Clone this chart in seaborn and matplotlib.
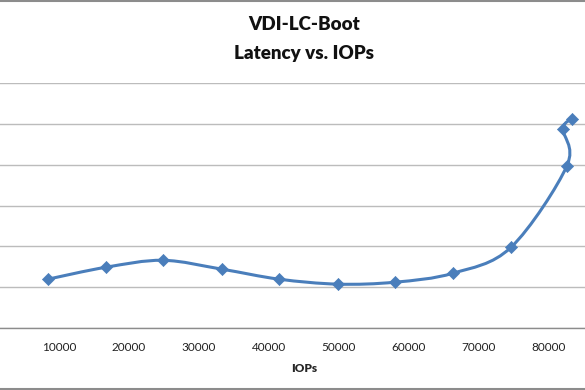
import numpy as np
import matplotlib
matplotlib.use("Agg")
import matplotlib.pyplot as plt
from matplotlib.path import Path
from matplotlib.patches import PathPatch
from matplotlib.lines import Line2D
import seaborn as sns

# values (latency axis labels are cropped in the source)
iops = [8430, 16710, 24860, 33290, 41430, 49860, 58000, 66290, 74570, 82570, 82000, 83290]
latency = [5.98, 7.44, 8.29, 7.20, 5.98, 5.37, 5.61, 6.71, 9.88, 19.88, 24.39, 25.61]
x_ticks = [10000, 20000, 30000, 40000, 50000, 60000, 70000, 80000]

blue = "#4a7ebb"

sns.set_style("white")
plt.rcParams["font.family"] = ["Lato", "DejaVu Sans"]

fig = plt.figure(figsize=(5.85, 3.9), dpi=100)
W, H = 585, 390
# plot area runs past the left and right edges of the picture
ax = fig.add_axes([-11 / W, 62 / H, 630 / W, 245 / H])

ax.set_xlim(0, 90000)
ax.set_ylim(0, 30)
ax.set_yticks(np.arange(0, 31, 5))
ax.set_yticklabels([])
ax.tick_params(axis="y", length=0)
ax.grid(axis="y", color="#bcbcbc", lw=1)
ax.set_axisbelow(True)
for s in ["top", "right", "left"]:
    ax.spines[s].set_visible(False)
ax.spines["bottom"].set_color("#8c8c8c")
ax.spines["bottom"].set_linewidth(1)

ax.set_xticks(x_ticks)
ax.set_xticklabels([str(t) for t in x_ticks], fontsize=8.5, color="#222222")
ax.tick_params(axis="x", length=4, color="#8c8c8c", pad=6)

# smoothed line (Excel-style bezier through the points)
pts = np.column_stack([iops, latency])
ext = np.vstack([pts[0], pts, pts[-1]])
verts = [tuple(pts[0])]
codes = [Path.MOVETO]
for i in range(len(pts) - 1):
    p0, p1, p2, p3 = ext[i], ext[i + 1], ext[i + 2], ext[i + 3]
    c1 = p1 + (p2 - p0) / 6
    c2 = p2 - (p3 - p1) / 6
    verts += [tuple(c1), tuple(c2), tuple(p2)]
    codes += [Path.CURVE4] * 3
ax.add_patch(PathPatch(Path(verts, codes), fill=False, edgecolor=blue, lw=2.2,
                       capstyle="round", joinstyle="round", zorder=3))

sns.scatterplot(x=iops, y=latency, ax=ax, marker="D", s=38, color=blue,
                edgecolor=blue, linewidth=0.5, zorder=4, clip_on=False)

ax.set_xlabel("IOPs", fontsize=8.5, fontweight="heavy", labelpad=7)
ax.set_ylabel("")

fig.text(304 / W, 1 - 25 / H, "VDI-LC-Boot", ha="center", va="center",
         fontsize=13.5, fontweight="heavy", color="#111111")
fig.text(304 / W, 1 - 53 / H, "Latency vs. IOPs", ha="center", va="center",
         fontsize=13.5, fontweight="heavy", color="#111111")

# chart border lines at top and bottom
fig.add_artist(Line2D([0, 1], [1 - 1 / H, 1 - 1 / H], transform=fig.transFigure,
                      color="#8c8c8c", lw=1.5))
fig.add_artist(Line2D([0, 1], [1 / H, 1 / H], transform=fig.transFigure,
                      color="#8c8c8c", lw=1.5))

fig.savefig("out.png", dpi=100)
